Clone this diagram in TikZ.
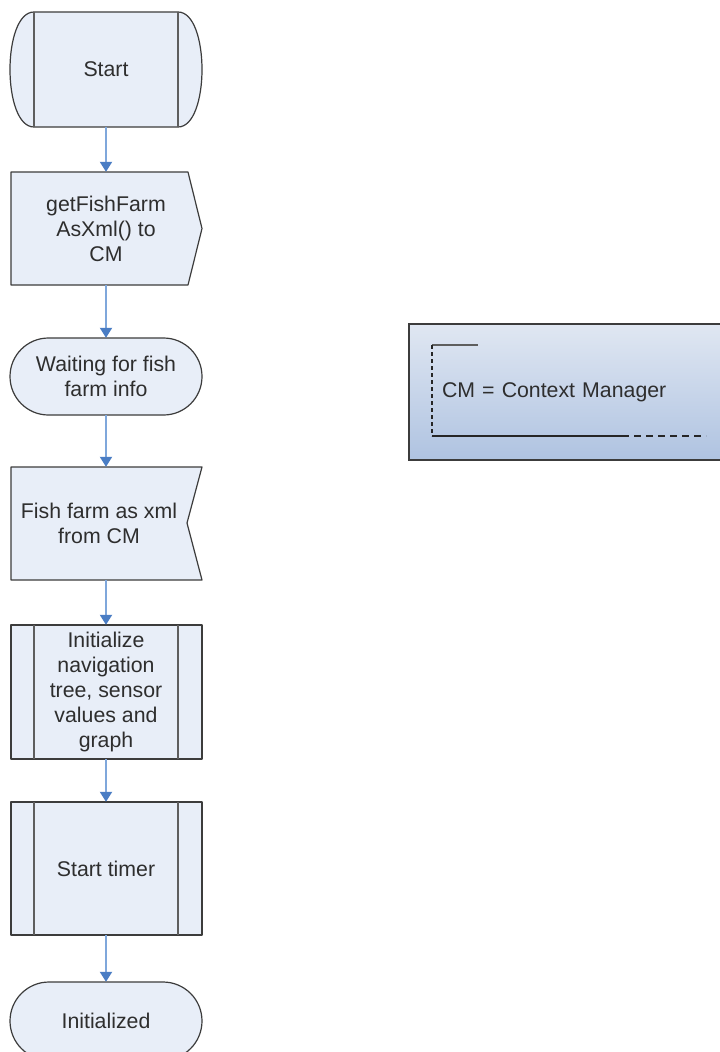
\documentclass[tikz,border=0pt]{standalone}
\usepackage{fontspec}
\setmainfont{Liberation Sans}
\usetikzlibrary{arrows.meta}

\definecolor{boxfill}{HTML}{E8EEF8}
\definecolor{boxline}{HTML}{3C3C3C}
\definecolor{barline}{HTML}{5E5E5E}
\definecolor{flowline}{HTML}{7FA7DB}
\definecolor{flowhead}{HTML}{4A7DC4}
\definecolor{legtop}{HTML}{E0E7F2}
\definecolor{legbot}{HTML}{AFC3E1}
\definecolor{txt}{HTML}{2E2E2E}

\begin{document}
\begin{tikzpicture}[x=1pt,y=-1pt,
  every node/.style={font=\fontsize{21.3}{25}\selectfont, text=txt, align=center, inner sep=0pt},
  outline/.style={draw=boxline, fill=boxfill, line width=1.2pt, line join=round},
  bar/.style={draw=barline, line width=2.5pt},
  flow/.style={draw=flowline, line width=2pt, -{Triangle[length=10pt,width=12pt,color=flowhead]}},
]

% Parameters
\def\xl{11}    % left edge of the boxes
\def\xr{202}   % right edge of the boxes
\def\xc{106}   % centre line of the flow
\def\bl{34}    % left inner bar
\def\br{178}   % right inner bar

\useasboundingbox[fill=white] (0,0) rectangle (720,1052);

% Start (rounded sides with inner bars)
\draw[outline] (\bl,12) -- (\br,12) .. controls (210,12) and (210,127) .. (\br,127)
  -- (\bl,127) .. controls (2,127) and (2,12) .. (\bl,12) -- cycle;
\draw[bar] (\bl,12) -- (\bl,127) (\br,12) -- (\br,127);

% Send getFishFarmAsXml()
\draw[outline] (\xl,172) -- (188,172) -- (\xr,228.5) -- (188,285) -- (\xl,285) -- cycle;

% Waiting
\draw[outline, rounded corners=38.5pt] (10,338) rectangle (\xr,415);

% Receive fish farm
\draw[outline] (\xl,467) -- (\xr,467) -- (187,523) -- (\xr,580) -- (\xl,580) -- cycle;

% Initialize (predefined process)
\draw[outline] (\xl,625) rectangle (\xr,759);
\draw[bar] (\bl,625) -- (\bl,759) (\br,625) -- (\br,759);

% Start timer (predefined process)
\draw[outline] (\xl,802) rectangle (\xr,935);
\draw[bar] (\bl,802) -- (\bl,935) (\br,802) -- (\br,935);

% Initialized
\draw[outline, rounded corners=39pt] (10,982) rectangle (\xr,1060);

% Texts
\node[minimum width=192pt, minimum height=115pt] (start) at (\xc,69.5) {Start};
\node[minimum width=191pt, minimum height=113pt] (getfarm) at (\xc,228.5) {getFishFarm\\AsXml() to\\CM};
\node[minimum width=192pt, minimum height=77pt] (wait) at (\xc,376.5) {Waiting for fish\\farm info};
\node[minimum width=191pt, minimum height=113pt] (fishxml) at (\xc,523.5)
  {\hspace*{-14pt}Fish farm as xml\\\hspace*{-14pt}from CM};
\node[minimum width=191pt, minimum height=134pt] (init) at (\xc,692) {Initialize\\navigation\\tree, sensor\\values and\\graph};
\node[minimum width=191pt, minimum height=133pt] (timer) at (\xc,868.5) {Start timer};
\node[minimum width=192pt, minimum height=78pt] (done) at (\xc,1021) {Initialized};

% Flow
\draw[flow] (start) -- (getfarm);
\draw[flow] (getfarm) -- (wait);
\draw[flow] (wait) -- (fishxml);
\draw[flow] (fishxml) -- (init);
\draw[flow] (init) -- (timer);
\draw[flow] (timer) -- (done);

% Legend
\node[draw=boxline, line width=1.5pt, top color=legtop, bottom color=legbot,
  minimum width=316pt, minimum height=136pt, text width=250pt, align=left]
  (legend) at (567,392) {CM = Context Manager};
\draw[barline, line width=2pt] (432,345) -- (478,345);
\draw[black!85, line width=1.2pt, dash pattern=on 4pt off 3pt] (432,345) -- (432,436);
\draw[black!85, line width=1.5pt] (432,436) -- (622,436);
\draw[black!85, line width=1.5pt, dash pattern=on 7pt off 5pt] (622,436) -- (706,436);

\end{tikzpicture}
\end{document}
